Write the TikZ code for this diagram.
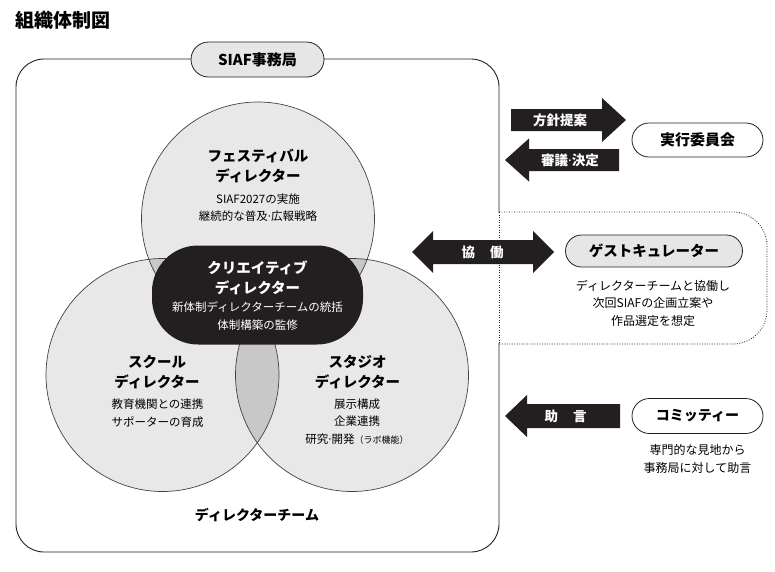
\documentclass[tikz,border=0pt]{standalone}
\usepackage{fontspec}
\setmainfont{Noto Sans CJK JP}
\newfontfamily\narrowdotfont{Noto Sans}
\newcommand{\ndot}{{\narrowdotfont ·}}
\usetikzlibrary{shapes.misc}
\definecolor{ink}{HTML}{231F20}
\definecolor{circg}{HTML}{E8E8E8}
\definecolor{lensg}{HTML}{C8C8C8}
\definecolor{pillg}{HTML}{E6E6E6}
\begin{document}
\begin{tikzpicture}[x=1pt,y=-1pt,
  ttl/.style={font=\fontsize{14.5}{20}\selectfont\bfseries, align=center, inner sep=0pt},
  sub/.style={font=\fontsize{11.5}{17.5}\selectfont, align=center, inner sep=0pt},
  rsub/.style={font=\fontsize{12}{17.5}\selectfont, align=center, inner sep=0pt},
  pill/.style={rounded rectangle, draw=ink, line width=0.8pt, inner sep=0pt},
  pilltext/.style={font=\fontsize{15}{18}\selectfont\bfseries},
  arrowbody/.style={fill=ink},
  alab/.style={font=\fontsize{13.5}{16}\selectfont\bfseries, text=white, inner sep=0pt},
  circline/.style={draw=ink!85, line width=0.7pt},
  densedot/.style={draw=ink, line width=0.8pt, dash pattern=on 0.9pt off 1.6pt}
]
\useasboundingbox (0,0) rectangle (775,571);
\fill[white] (0,0) rectangle (775,571);

% title
\node[font=\fontsize{19}{22}\selectfont\bfseries, anchor=west, inner sep=0pt] (title) at (15,20) {組織体制図};

% main frame
\draw[ink, line width=0.9pt, rounded corners=28pt] (16,59) rectangle (499,552);

% circles
\coordinate (T) at (258,218.5);
\coordinate (L) at (162.5,375);
\coordinate (R) at (352,375);
\fill[circg] (T) circle (116.5pt);
\fill[circg] (L) circle (116.5pt);
\fill[circg] (R) circle (116.5pt);
\begin{scope}
  \clip (L) circle (116.5pt);
  \fill[lensg] (R) circle (116.5pt);
  \fill[lensg] (T) circle (116.5pt);
\end{scope}
\begin{scope}
  \clip (R) circle (116.5pt);
  \fill[lensg] (T) circle (116.5pt);
\end{scope}
\draw[circline] (T) circle (116.5pt);
\draw[circline] (L) circle (116.5pt);
\draw[circline] (R) circle (116.5pt);

% creative director pill
\node[fill=ink, rounded corners=46pt, minimum width=211pt, minimum height=99pt, inner sep=0pt] (cd) at (257.5,295) {};
\node[ttl, text=white] (cdT) at (257.5,278) {クリエイティブ\\ディレクター};
\node[sub, text=white] (cdS) at (257.5,316) {新体制ディレクターチームの統括\\体制構築の監修};

% festival
\node[ttl] (fdT) at (258,165.5) {フェスティバル\\ディレクター};
\node[sub] (fdS) at (258,207.5) {SIAF2027の実施\\継続的な普及\ndot 広報戦略};

% school
\node[ttl] (sdT) at (157,372.5) {スクール\\ディレクター};
\node[sub] (sdS) at (157.5,413) {教育機関との連携\\サポーターの育成};

% studio
\node[ttl] (stT) at (357.5,372.5) {スタジオ\\ディレクター};
\node[sub] (stS) at (357,421.5) {展示構成\\企業連携\\研究\ndot 開発{\fontsize{9}{10}\selectfont （ラボ機能）}};

% team label
\node[font=\fontsize{14}{18}\selectfont\bfseries, inner sep=0pt] (team) at (257,515) {ディレクターチーム};

% SIAF office pill
\node[pill, fill=pillg, minimum width=133pt, minimum height=35pt, pilltext] (siaf) at (257.5,59.5) {SIAF事務局};

% dotted guest region
\draw[white, line width=2.2pt] (499,213) -- (499,343);
\draw[densedot, rounded corners=34pt] (499,212) -- (767,212) -- (767,344) -- (499,344);
\draw[densedot] (499,212) -- (499,344);

% arrows
\fill[arrowbody] (511,109) -- (602,109) -- (602,98) -- (626,120) -- (602,142) -- (602,131) -- (511,131) -- cycle;
\node[alab] (aProp) at (560,120) {方針提案};

\fill[arrowbody] (619,149) -- (529,149) -- (529,138.5) -- (505,160) -- (529,181.5) -- (529,171) -- (619,171) -- cycle;
\node[alab] (aDec) at (570,160) {審議\ndot 決定};

\fill[arrowbody] (412,252) -- (433,231) -- (433,240) -- (533,240) -- (533,231) -- (554,252) -- (533,273) -- (533,264) -- (433,264) -- (433,273) -- cycle;
\node[alab] (aCol) at (482.5,252) {協\hspace{15pt}働};

\fill[arrowbody] (505,416) -- (527,395) -- (527,404) -- (620,404) -- (620,428) -- (527,428) -- (527,437) -- cycle;
\node[alab] (aAdv) at (565.5,416) {助\hspace{15pt}言};

% right-side bodies
\node[pill, fill=white, minimum width=131pt, minimum height=34pt, pilltext] (exec) at (697.5,140) {実行委員会};
\node[pill, fill=pillg, minimum width=177pt, minimum height=32pt, font=\fontsize{14.5}{18}\selectfont\bfseries] (guest) at (654,251) {ゲストキュレーター};
\node[rsub] (guestS) at (653,303) {ディレクターチームと協働し\\次回SIAFの企画立案や\\作品選定を想定};
\node[pill, fill=white, minimum width=131pt, minimum height=35pt, font=\fontsize{14}{18}\selectfont\bfseries] (comm) at (697.5,416) {コミッティー};
\node[rsub] (commS) at (697.5,459) {専門的な見地から\\事務局に対して助言};
\end{tikzpicture}
\end{document}
